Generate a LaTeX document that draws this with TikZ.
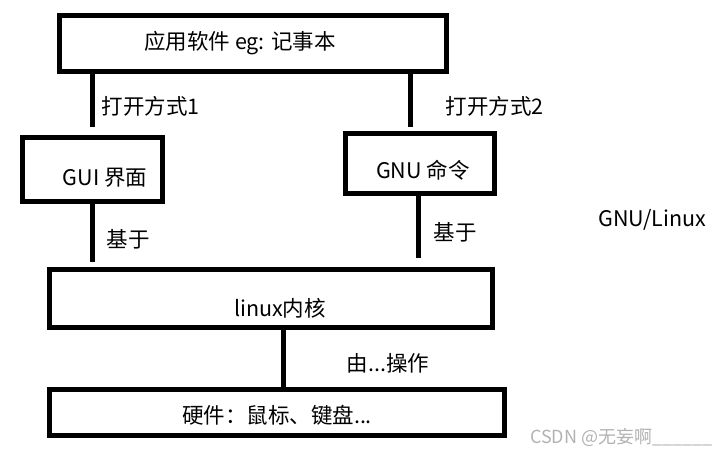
\documentclass[tikz,border=0pt]{standalone}
\usepackage{fontspec}
\setmainfont{Noto Sans CJK SC}
\usetikzlibrary{positioning,calc}

\begin{document}
\begin{tikzpicture}[x=1pt, y=-1pt,
  box/.style={draw, line width=5pt, inner sep=0pt},
  txt/.style={font=\fontsize{21.5}{25}\selectfont, inner sep=0pt},
  lbl/.style={font=\fontsize{21.5}{25}\selectfont},
  link/.style={line width=5pt}
]
  \useasboundingbox (0,0) rectangle (720,456);

  % boxes
  \node[box, minimum width=387pt, minimum height=56pt,
    label={[txt, xshift=-13pt]center:{应用软件 eg: 记事本}}] (app) at (253,43) {};
  \node[box, minimum width=140pt, minimum height=64pt,
    label={[txt, xshift=13pt, yshift=-9pt]center:{GUI 界面}}] (gui) at (92,169) {};
  \node[box, minimum width=149pt, minimum height=60pt,
    label={[txt, xshift=3pt, yshift=-7pt]center:{GNU 命令}}] (gnu) at (420,163) {};
  \node[box, minimum width=443pt, minimum height=58pt,
    label={[txt, xshift=9pt, yshift=-10pt]center:{linux内核}}] (kernel) at (271,298) {};
  \node[box, minimum width=455pt, minimum height=46pt,
    label={[txt, yshift=-3pt]center:{硬件：鼠标、键盘...}}] (hw) at (277,412) {};

  \node[lbl, anchor=west, inner sep=0pt] (gnulinux) at (598,220) {GNU/Linux};
  \node[lbl, anchor=east, inner sep=0pt, text=black!30,
    font=\fontsize{18}{21}\selectfont] (mark) at (713,437) {CSDN @无妄啊\_\_\_\_\_\_};

  % connectors
  \coordinate (guitop) at ([yshift=8pt]gui.north);
  \coordinate (gnutop) at ([xshift=-10pt, yshift=4pt]gnu.north);
  \coordinate (guibot) at ([yshift=5pt]kernel.north -| gui.south);
  \coordinate (gnubot) at ([xshift=-2pt, yshift=9pt]kernel.north -| gnu.south);
  \coordinate (kerbot) at ([xshift=12pt]kernel.south);

  \draw[link] (app.south -| guitop) -- node[lbl, right=4pt, pos=0.62] {打开方式1} (guitop);
  \draw[link] (app.south -| gnutop) -- node[lbl, right=30pt, pos=0.62] {打开方式2} (gnutop);
  \draw[link] (gnu.south -| gnubot) -- node[lbl, right=10pt, pos=0.6] {基于} (gnubot);
  \draw[link] (gui.south -| guibot) -- node[lbl, right=9pt, pos=0.62] {基于} (guibot);
  \draw[link] (kerbot) -- node[lbl, right=58pt, pos=0.6] {由...操作} (kerbot |- hw.north);
\end{tikzpicture}
\end{document}
